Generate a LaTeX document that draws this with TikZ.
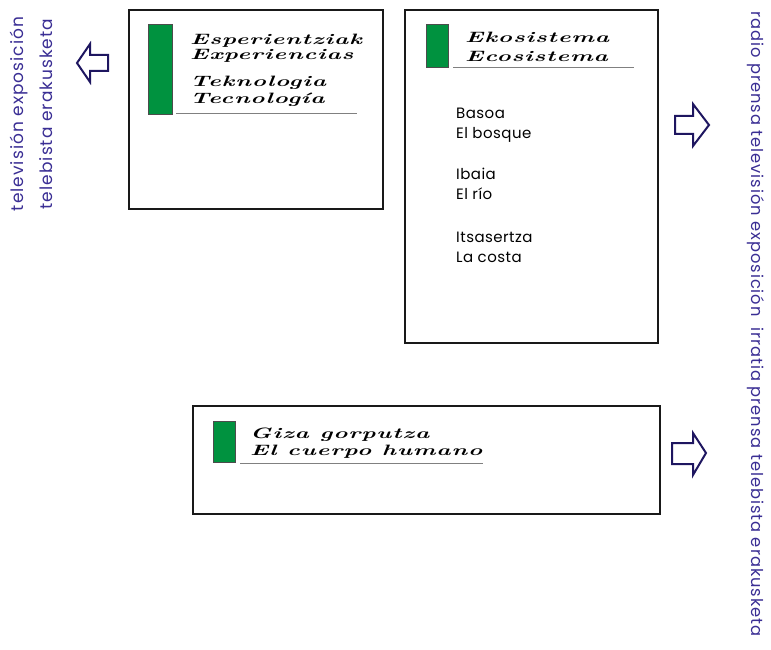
\documentclass[tikz,border=0pt]{standalone}
\usepackage{fontspec}
\setsansfont{Poppins}
\newfontfamily\handfont{Latin Modern Roman}[FakeStretch=1.6,LetterSpace=6]
\newfontfamily\mediafont{Poppins}[LetterSpace=6]
\newfontfamily\bodyfont{Poppins}[LetterSpace=3]
\usepackage{xcolor}
\usepackage{tikz}
\usetikzlibrary{positioning}

\definecolor{tabgreen}{RGB}{0,146,63}
\definecolor{medialila}{RGB}{58,46,148}
\definecolor{arrownavy}{RGB}{30,22,96}

\begin{document}
\begin{tikzpicture}[
  frame/.style={draw=black!90, line width=2pt},
  tab/.style={draw=black!70, fill=tabgreen, line width=0.6pt},
  rule/.style={draw=gray, line width=0.9pt},
  hand/.style={font=\handfont\bfseries\itshape\fontsize{15}{15}\selectfont, anchor=base west, inner sep=0pt},
  body/.style={font=\bodyfont\fontsize{15}{15}\selectfont, anchor=base west, inner sep=0pt},
  media/.style={font=\mediafont\fontsize{16.3}{16.3}\selectfont, text=medialila, inner sep=0pt},
  pointer/.style={draw=arrownavy, fill=white, line width=2pt, line join=miter},
  x=1pt,y=-1pt
]
\useasboundingbox (0,0) rectangle (771,650);

% Experientziak
\draw[frame] (129,10) rectangle (383,209);
\draw[tab] (148,24) rectangle (172,114);
\draw[rule] (176,113) -- (357,113);
\node[hand] (esp) at (190,45) {Esperientziak};
\node[hand] (exp) at (190,60) {Experiencias};
\node[hand] (tek) at (190,87) {Teknologia};
\node[hand] (tec) at (190,104) {Tecnología};

% Ekosistema
\draw[frame] (405,10) rectangle (658,343);
\draw[tab] (426,24) rectangle (448,67);
\draw[rule] (453,67) -- (634,67);
\node[hand] (eko) at (465,43) {Ekosistema};
\node[hand] (eco) at (465,62) {Ecosistema};
\node[body] (basoa) at (456,119) {Basoa};
\node[body] (bosque) at (456,139) {El bosque};
\node[body] (ibaia) at (456,179) {Ibaia};
\node[body] (rio) at (456,199) {El río};
\node[body] (itsas) at (456,242) {Itsasertza};
\node[body] (costa) at (456,262) {La costa};

% Giza gorputza
\draw[frame] (193,406) rectangle (660,514);
\draw[tab] (213,421) rectangle (235,462);
\draw[rule] (240,463) -- (483,463);
\node[hand] (giza) at (250,438) {Giza gorputza};
\node[hand] (cuerpo) at (250,455) {El cuerpo humano};

% arrows
\draw[pointer] (77,63) -- (90,44) -- (90,55) -- (108,55) -- (108,71) -- (90,71) -- (90,82) -- cycle;
\draw[pointer] (709,125) -- (693,104) -- (693,116) -- (675,116) -- (675,134) -- (693,134) -- (693,146) -- cycle;
\draw[pointer] (706,453) -- (693,433) -- (693,443) -- (672,443) -- (672,464) -- (693,464) -- (693,475) -- cycle;

% media
\node[media, rotate=90, font=\mediafont\fontsize{17}{17}\selectfont] (tvleft) at (19,114) {televisión exposición};
\node[media, rotate=90, font=\mediafont\fontsize{17}{17}\selectfont] (tbleft) at (46,114) {telebista erakusketa};
\node[media, rotate=-90] (mright) at (756,324) {radio prensa televisión exposición\ \ irratia prensa telebista erakusketa};
\end{tikzpicture}
\end{document}
